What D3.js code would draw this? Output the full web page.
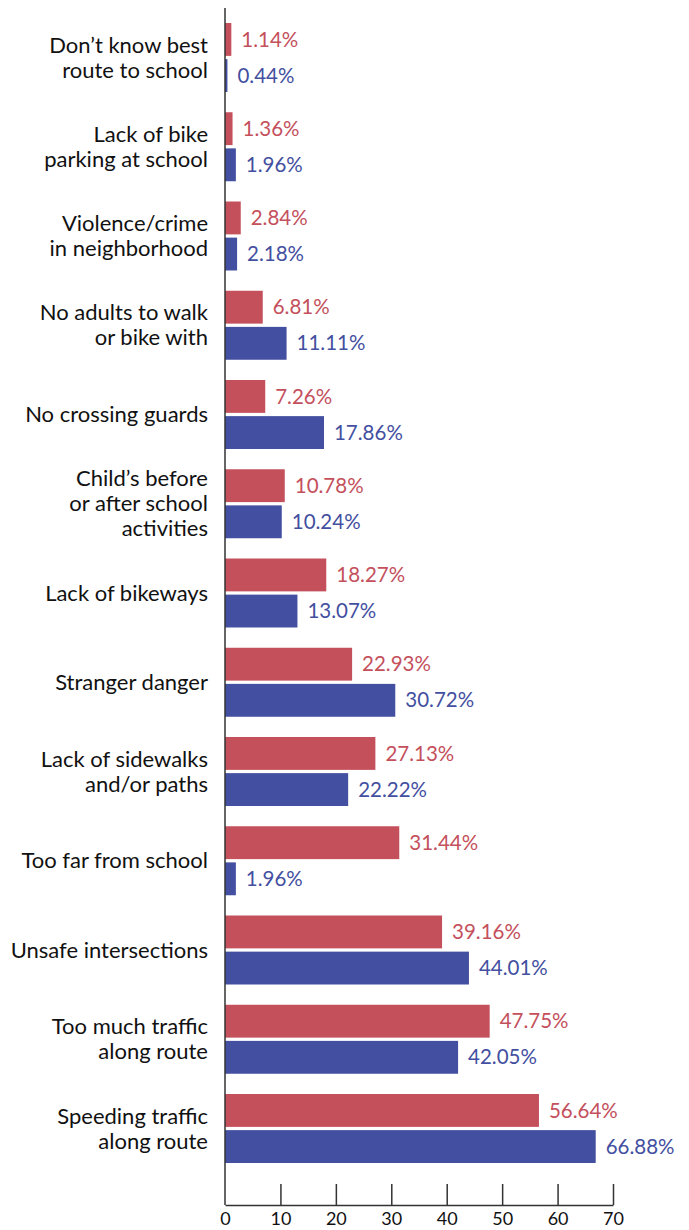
<!DOCTYPE html>
<html>
<head>
<meta charset="utf-8">
<script src="https://cdn.jsdelivr.net/npm/d3@7"></script>
<style>
  body { margin: 0; background: #fff; }
  svg text { font-family: Lato, "Open Sans", sans-serif; }
</style>
</head>
<body>
<div id="chart"></div>
<script>
// categories (top to bottom), label lines split by "|"
const categories = [
  "Don\u2019t know best|route to school",
  "Lack of bike|parking at school",
  "Violence/crime|in neighborhood",
  "No adults to walk|or bike with",
  "No crossing guards",
  "Child\u2019s before|or after school|activities",
  "Lack of bikeways",
  "Stranger danger",
  "Lack of sidewalks|and/or paths",
  "Too far from school",
  "Unsafe intersections",
  "Too much traffic|along route",
  "Speeding traffic|along route"
];
const redValues = [1.14, 1.36, 2.84, 6.81, 7.26, 10.78, 18.27, 22.93, 27.13, 31.44, 39.16, 47.75, 56.64];
const blueValues = [0.44, 1.96, 2.18, 11.11, 17.86, 10.24, 13.07, 30.72, 22.22, 1.96, 44.01, 42.05, 66.88];
const xTicks = [0, 10, 20, 30, 40, 50, 60, 70];
const seriesKeys = ["red", "blue"];

const width = 689, height = 1230;
const red = "#c4505c", blue = "#434fa0";

const svg = d3.select("#chart").append("svg")
  .attr("width", width).attr("height", height);

// scales
const x = d3.scaleLinear().domain([0, 70]).range([225, 613]);
const y = d3.scaleBand().domain(d3.range(categories.length))
  .range([23, 1163]).paddingInner(0.227).paddingOuter(0);
const ySub = d3.scaleBand().domain(seriesKeys)
  .range([0, y.bandwidth()]).paddingInner(0.09);

const rows = categories.map((c, i) => ({
  i, label: c.split("|"),
  vals: [{ k: "red", v: redValues[i] }, { k: "blue", v: blueValues[i] }]
}));

const g = svg.selectAll("g.row").data(rows).enter().append("g")
  .attr("class", "row")
  .attr("transform", d => `translate(0,${y(d.i)})`);

// bars
g.selectAll("rect").data(d => d.vals).enter().append("rect")
  .attr("x", x(0))
  .attr("y", d => ySub(d.k))
  .attr("width", d => x(d.v) - x(0))
  .attr("height", ySub.bandwidth())
  .attr("fill", d => d.k === "red" ? red : blue);

// value labels
g.selectAll("text.val").data(d => d.vals).enter().append("text")
  .attr("class", "val")
  .attr("x", d => x(d.v) + 10)
  .attr("y", d => ySub(d.k) + ySub.bandwidth() / 2)
  .attr("dy", "0.35em")
  .attr("font-size", 20.5)
  .attr("fill", d => d.k === "red" ? red : blue)
  .text(d => d.v.toFixed(2) + "%");

// category labels
const lineH = 25;
g.append("text")
  .attr("text-anchor", "end")
  .attr("font-size", 22)
  .attr("fill", "#111")
  .each(function (d) {
    const t = d3.select(this);
    const n = d.label.length;
    d.label.forEach((s, j) => {
      t.append("tspan")
        .attr("x", 208)
        .attr("y", y.bandwidth() / 2 + (j - (n - 1) / 2) * lineH)
        .attr("dy", "0.35em")
        .text(s);
    });
  });

// axes
svg.append("line")
  .attr("x1", x(0)).attr("x2", x(0))
  .attr("y1", 8).attr("y2", 1205)
  .attr("stroke", "#333").attr("stroke-width", 1.5);

const xAxis = d3.axisBottom(x).tickValues(xTicks).tickSize(0).tickPadding(7);
const ax = svg.append("g").attr("transform", "translate(0,1205)").call(xAxis);
ax.select(".domain").attr("stroke", "#333").attr("stroke-width", 1.5);
ax.selectAll("text").attr("font-size", 18).attr("fill", "#111")
  .attr("font-family", "Lato, 'Open Sans', sans-serif");
ax.selectAll(".tick").filter(d => d !== 0).append("line")
  .attr("y1", 0).attr("y2", -21)
  .attr("stroke", "#333").attr("stroke-width", 1.5);
</script>
</body>
</html>
